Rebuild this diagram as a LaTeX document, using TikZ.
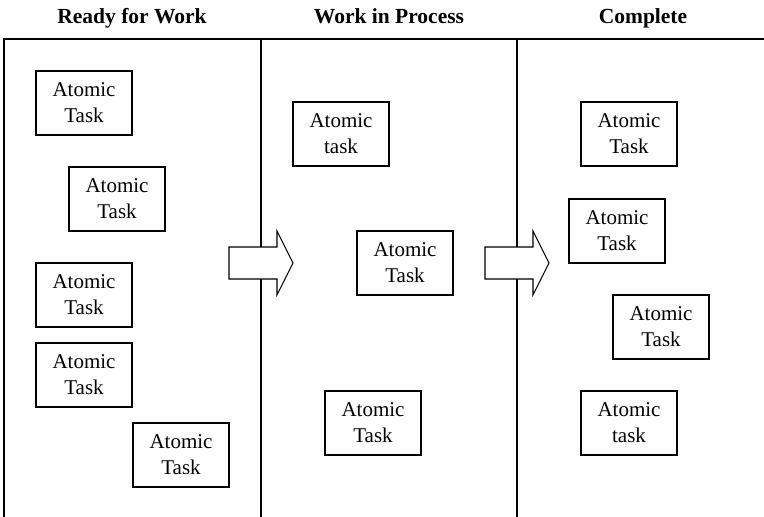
\documentclass[tikz,border=0pt]{standalone}
\usepackage{fontspec}
\setmainfont{Liberation Serif}
\begin{document}
\begin{tikzpicture}[x=1pt,y=-1pt,
  lane/.style={line width=1.3pt},
  task/.style={draw,line width=1.1pt,minimum width=96pt,minimum height=64pt,
    align=center,inner sep=0pt,font=\fontsize{21}{26}\selectfont},
  head/.style={anchor=base,font=\fontsize{21.5}{24}\selectfont\bfseries},
  flow/.style={draw,fill=white,line width=1.1pt,line join=miter}]
\useasboundingbox (0,0) rectangle (764,517);

% column headings
\node[head] (h1) at (132,23.5) {Ready for Work};
\node[head] (h2) at (389,23.5) {Work in Process};
\node[head] (h3) at (643,23.5) {Complete};

% lane frame
\coordinate (tl) at (4,39);
\coordinate (tr) at (764,39);
\coordinate (bl) at (4,517);
\coordinate (d1t) at (261,39);
\coordinate (d1b) at (261,517);
\coordinate (d2t) at (517,39);
\coordinate (d2b) at (517,517);
\draw[lane] (bl) -- (tl) -- (tr);
\draw[lane] (d1t) -- (d1b);
\draw[lane] (d2t) -- (d2b);

% block arrows between lanes
\draw[flow] (229,247) -- (277,247) -- (277,231) -- (293,263) -- (277,295) -- (277,279) -- (229,279) -- cycle;
\draw[flow] (485,247) -- (533,247) -- (533,231) -- (549,263) -- (533,295) -- (533,279) -- (485,279) -- cycle;

% ready for work
\node[task] (r1) at (84,103) {Atomic\\Task};
\node[task] (r2) at (117,199) {Atomic\\Task};
\node[task] (r3) at (84,295) {Atomic\\Task};
\node[task] (r4) at (84,375) {Atomic\\Task};
\node[task] (r5) at (181,455) {Atomic\\Task};

% work in process
\node[task] (w1) at (341,134) {Atomic\\task};
\node[task] (w2) at (405,263) {Atomic\\Task};
\node[task] (w3) at (373,423) {Atomic\\Task};

% complete
\node[task] (c1) at (629,134) {Atomic\\Task};
\node[task] (c2) at (617,231) {Atomic\\Task};
\node[task] (c3) at (661,327) {Atomic\\Task};
\node[task] (c4) at (629,423) {Atomic\\task};
\end{tikzpicture}
\end{document}
